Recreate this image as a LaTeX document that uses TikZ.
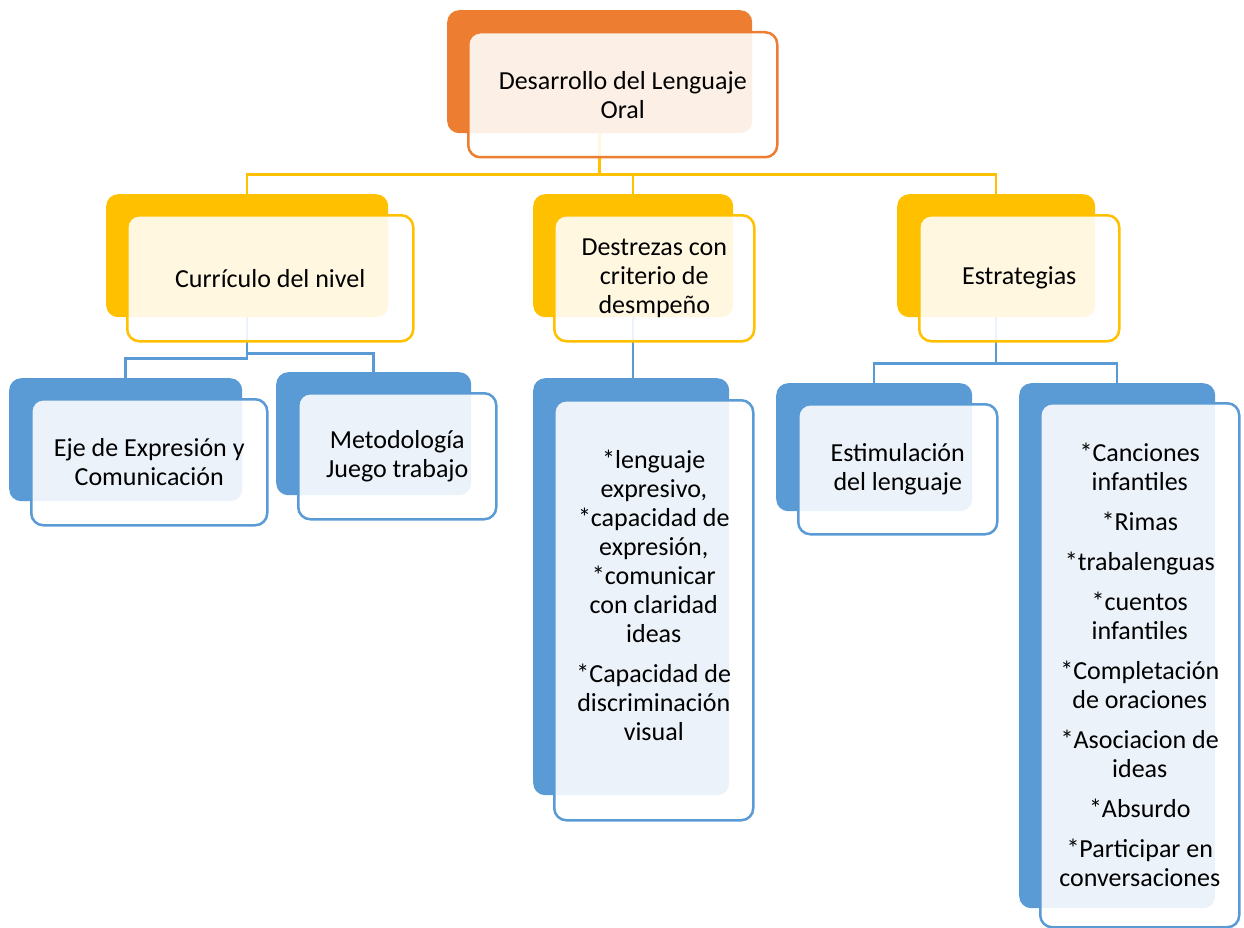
\documentclass[tikz,border=0pt]{standalone}
\usepackage{fontspec}
\setmainfont{Carlito}
\definecolor{naranja}{HTML}{ED7D31}
\definecolor{amarillo}{HTML}{FFC000}
\definecolor{azul}{HTML}{5B9BD5}
\tikzset{
    fondo/.style={fill=#1, rounded corners=12pt, anchor=north west, inner sep=0pt},
    tarjeta/.style={draw=#1, line width=2.5pt, fill=white, fill opacity=0.88, text opacity=1,
        rounded corners=12pt, anchor=north west, inner sep=0pt, align=center,
        font=\fontsize{26}{29}\selectfont},
    letra/.style={align=center, inner sep=0pt, font=\fontsize{26}{29}\selectfont},
    enlace/.style={draw=#1, line width=2.5pt}
}

\begin{document}
\begin{tikzpicture}[x=1pt,y=-1pt]
                \useasboundingbox (0,0) rectangle (1244,928);
                \node[fondo=naranja, minimum width=305pt, minimum height=123pt] (raizB) at (447,10) {};
                \node[fondo=amarillo, minimum width=282pt, minimum height=123pt] (curB) at (106,194) {};
                \node[fondo=amarillo, minimum width=200pt, minimum height=123pt] (desB) at (533,194) {};
                \node[fondo=amarillo, minimum width=198pt, minimum height=123pt] (estB) at (897,194) {};
                \node[fondo=azul, minimum width=233pt, minimum height=123pt] (ejeB) at (9,378) {};
                \node[fondo=azul, minimum width=195pt, minimum height=123pt] (metB) at (276,372) {};
                \node[fondo=azul, minimum width=196pt, minimum height=417pt] (capB) at (533,378) {};
                \node[fondo=azul, minimum width=196pt, minimum height=128pt] (estiB) at (776,383) {};
                \node[fondo=azul, minimum width=196pt, minimum height=525pt] (canB) at (1019,383) {};
                \draw[enlace=amarillo] (raizB.south) -- ++(0,41) -| (curB.north);
                \draw[enlace=amarillo] (raizB.south) -- ++(0,41) -| (desB.north);
                \draw[enlace=amarillo] (raizB.south) -- ++(0,41) -| (estB.north);
                \draw[enlace=azul] (curB.south) -- ++(0,41) -| (ejeB.north);
                \draw[enlace=azul] (curB.south) -- ++(0,36) -| (metB.north);
                \draw[enlace=azul] (desB.south) -- (desB.south |- capB.north);
                \draw[enlace=azul] (estB.south) -- ++(0,46) -| (estiB.north);
                \draw[enlace=azul] (estB.south) -- ++(0,46) -| (canB.north);
                \node[tarjeta=naranja, minimum width=309pt, minimum height=125pt] (raiz) at (467,31) {Desarrollo del Lenguaje\\Oral};
                \node[tarjeta=amarillo, minimum width=286pt, minimum height=126pt] (cur) at (126,214) {Currículo del nivel};
                \node[tarjeta=amarillo, minimum width=200pt, minimum height=126pt] (des) at (553,214) {Destrezas con\\criterio de\\desmpeño};
                \node[tarjeta=amarillo, minimum width=200pt, minimum height=126pt] (est) at (918,214) {Estrategias};
                \node[tarjeta=azul, minimum width=236pt, minimum height=126pt] (eje) at (30,398) {Eje de Expresión y\\Comunicación};
                \node[tarjeta=azul, minimum width=198pt, minimum height=126pt] (met) at (297,392) {Metodología\\Juego trabajo};
                \node[tarjeta=azul, minimum width=199pt, minimum height=420pt] (cap) at (553,399) {};
                \node[letra] (capT) at ([yshift=15pt]cap.center) {*lenguaje\\expresivo,\\*capacidad de\\expresión,\\*comunicar\\con claridad\\ideas\\[11pt]*Capacidad de\\discriminación\\visual};
                \node[tarjeta=azul, minimum width=199pt, minimum height=130pt] (esti) at (797,403) {Estimulación\\del lenguaje};
                \node[tarjeta=azul, minimum width=199pt, minimum height=524pt] (can) at (1039,402) {*Canciones\\infantiles\\[11pt]*Rimas\\[11pt]*trabalenguas\\[11pt]*cuentos\\infantiles\\[11pt]*Completación\\de oraciones\\[11pt]*Asociacion de\\ideas\\[11pt]*Absurdo\\[11pt]*Participar en\\conversaciones};
            \end{tikzpicture}
\end{document}
